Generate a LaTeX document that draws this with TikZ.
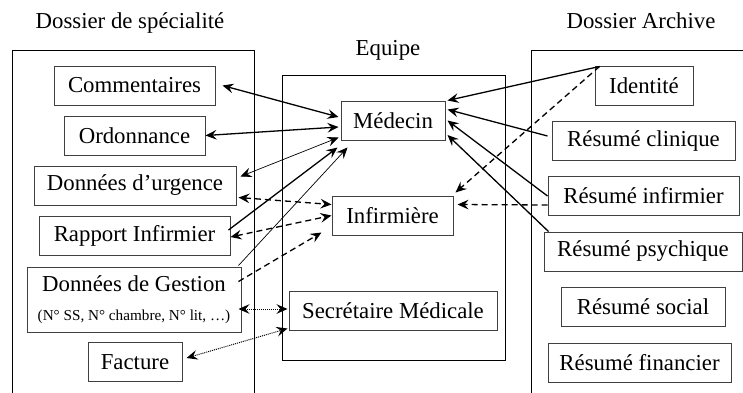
\documentclass[tikz,border=0pt]{standalone}
\usepackage{fontspec}
\setmainfont{Liberation Serif}
\usetikzlibrary{arrows.meta,calc}

\begin{document}
\begin{tikzpicture}[x=0.5pt, y=-0.5pt,
    box/.style={draw=black!75, line width=0.5pt, minimum height=19.5pt, inner sep=0pt},
    arr/.style={line width=0.65pt},
    arrthin/.style={line width=0.35pt},
    arrdash/.style={line width=0.65pt, dash pattern=on 3pt off 2pt},
    arrdot/.style={line width=0.5pt, dash pattern=on 0.5pt off 0.5pt},
    >={Stealth[length=5.5pt,width=4.8pt,inset=2pt]}]
      \tikzset{every node/.style={font=\fontsize{11.4}{13.7}\selectfont}}
      \useasboundingbox (0,0) rectangle (743,392);
      \clip (0,0) rectangle (743,392);
      \draw[line width=0.5pt] (12,50) rectangle (254,420);
      \draw[line width=0.5pt] (282,75) rectangle (505,360);
      \draw[line width=0.5pt] (531,50) rectangle (770,420);
      \node[anchor=base] (lspec) at (130,28) {Dossier de spécialité};
      \node[anchor=base] (lequ) at (388,55) {Equipe};
      \node[anchor=base] (larch) at (641,28) {Dossier Archive};
      \node[box, minimum width=80.5pt] (comm) at (134.5,85.5) {Commentaires};
      \node[box, minimum width=70.5pt] (ordo) at (134.5,135.5) {Ordonnance};
      \node[box, minimum width=101pt] (urg) at (135,185.5) {Données d’urgence};
      \node[box, minimum width=95.5pt] (rapp) at (134.5,236) {Rapport Infirmier};
      \node[box, minimum width=107pt, minimum height=32.5pt, align=center] (gest) at (134,299.5)
        {Données de Gestion\\[1pt]{\fontsize{7.6}{9}\selectfont (N° SS, N° chambre, N° lit, …)}};
      \node[box, minimum width=47pt] (fact) at (135,362) {Facture};
      \node[box, minimum width=52pt] (med) at (393,120.5) {Médecin};
      \node[box, minimum width=60.5pt] (inf) at (392.5,215.5) {Infirmière};
      \node[box, minimum width=104pt] (sec) at (393,310.5) {Secrétaire Médicale};
      \node[box, minimum width=49pt] (ident) at (644,85.5) {Identité};
      \node[box, minimum width=91.5pt] (clin) at (643.5,140.5) {Résumé clinique};
      \node[box, minimum width=95.5pt] (rinf) at (643.5,195.5) {Résumé infirmier};
      \node[box, minimum width=99pt] (psy) at (643,251.5) {Résumé psychique};
      \node[box, minimum width=82pt] (soc) at (643,307) {Résumé social};
      \node[box, minimum width=91.5pt] (fin) at (639.5,362.5) {Résumé financier};
      \coordinate (idp) at ($(ident.north west)+(5,1)$);
      \draw[arr, <->] ($(comm.east)+(7,0)$) -- ($(med.west)+(-2,-3.5)$);
      \draw[arr, <->] (ordo.east) -- ($(med.west)+(-2,6.5)$);
      \draw[arrthin, <->] ($(urg.north east)+(4,11)$) -- ($(med.south west)+(-2,-3)$);
      \draw[arr, ->] ($(rapp.east)+(-2,-6)$) -- ($(med.south west)+(-3,7)$);
      \draw[arrthin, ->] ($(gest.north east)+(-3,-1)$) -- ($(med.south west)+(7,7)$);
      \draw[arrdash, <->] ($(urg.south east)+(2,-8)$) -- ($(inf.north west)+(0,9)$);
      \draw[arrdash, <->] ($(rapp.east)+(0,1)$) -- (inf.west);
      \draw[arrdash, ->] ($(gest.north east)+(-3,15)$) -- ($(inf.south west)+(-10,-3)$);
      \draw[arrdot, <->] ($(gest.east)+(-3,9.5)$) -- ($(sec.west)+(-1,-1.5)$);
      \draw[arrdot, <->] ($(fact.east)+(4,-4)$) -- ($(sec.south west)+(-1,-2)$);
      \draw[arr, ->] (idp) -- ($(med.north east)+(2,0)$);
      \draw[arrdash, ->] (idp) -- ($(inf.north east)+(2,-3)$);
      \draw[arr, ->] ($(clin.west)+(-4,-4.5)$) -- ($(med.north east)+(2,9)$);
      \draw[arr, ->] ($(rinf.west)+(0,0.5)$) -- ($(med.east)+(2,0)$);
      \draw[arrdash, ->] ($(rinf.west)+(0,9.5)$) -- ($(inf.north east)+(4,9)$);
      \draw[arr, ->] ($(psy.north west)+(5,0)$) -- ($(med.east)+(2,14.5)$);
\end{tikzpicture}
\end{document}
